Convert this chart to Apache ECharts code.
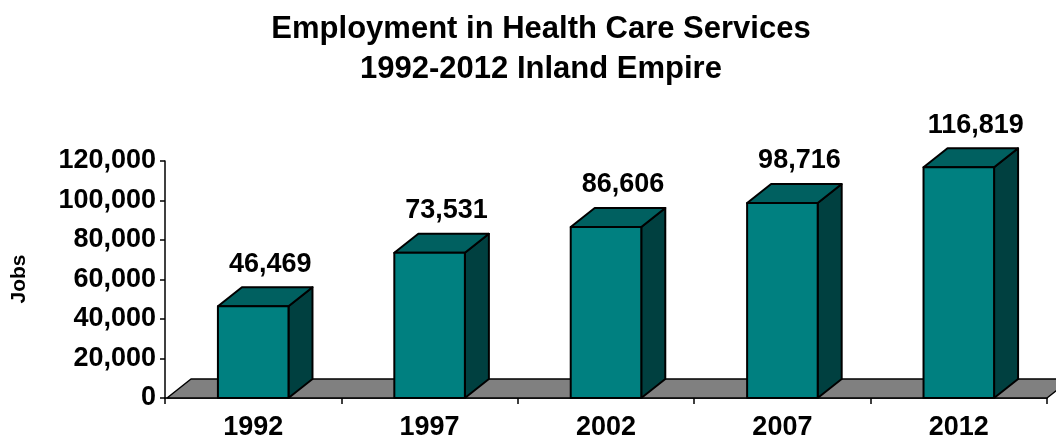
<!DOCTYPE html>
<html><head><meta charset="utf-8">
<script src="https://cdn.jsdelivr.net/npm/echarts@6.0.0/dist/echarts.min.js"></script>
<style>html,body{margin:0;padding:0;background:#fff}#c{width:1056px;height:439px}</style>
</head><body><div id="c"></div>
<script>
const titleLines = ['Employment in Health Care Services', '1992-2012 Inland Empire'];
const axisName = 'Jobs';
const categories = ['1992', '1997', '2002', '2007', '2012'];
const jobs = [46469, 73531, 86606, 98716, 116819];
const yMin = 0, yMax = 120000, yStep = 20000;

const FONT = '"Liberation Sans", Arial, sans-serif';
const DX = 24, DY = 19;
const fmt = v => Number(v).toLocaleString('en-US');

const chart = echarts.init(document.getElementById('c'));
chart.setOption({
  animation: false,
  backgroundColor: '#fff',
  graphic: [
    { type: 'text', x: 541, y: 29,
      style: { text: titleLines[0], align: 'center', verticalAlign: 'middle', font: 'bold 31px ' + FONT, fill: '#000' } },
    { type: 'text', x: 541, y: 69,
      style: { text: titleLines[1], align: 'center', verticalAlign: 'middle', font: 'bold 31px ' + FONT, fill: '#000' } },
    { type: 'text', x: 19, y: 279, rotation: Math.PI / 2,
      style: { text: axisName, align: 'center', verticalAlign: 'middle', font: 'bold 21px ' + FONT, fill: '#000' } }
  ],
  grid: { left: 165, right: 9, top: 161, bottom: 41, containLabel: false, outerBoundsMode: 'none' },
  xAxis: {
    type: 'category', data: categories, boundaryGap: true,
    axisLine: { show: true, lineStyle: { color: '#000', width: 1.5 } },
    axisTick: { show: true, length: 6, lineStyle: { color: '#000', width: 1.5 } },
    axisLabel: { margin: 16, fontFamily: FONT, fontWeight: 'bold', fontSize: 27, color: '#000' },
    splitLine: { show: false }
  },
  yAxis: {
    type: 'value', min: yMin, max: yMax, interval: yStep,
    axisLine: { show: true, lineStyle: { color: '#000', width: 1.5 } },
    axisTick: { show: true, length: 5, lineStyle: { color: '#000', width: 1.5 } },
    axisLabel: { margin: 9, fontFamily: FONT, fontWeight: 'bold', fontSize: 27, color: '#000', formatter: fmt },
    splitLine: { show: false }
  },
  series: [
    {
      type: 'custom', z: 1, clip: false, silent: true,
      data: [[0, 0]],
      renderItem: function (params, api) {
        const cs = params.coordSys;
        const yb = cs.y + cs.height;
        const x0 = cs.x + 2, x1 = cs.x + cs.width;
        return {
          type: 'polygon',
          shape: { points: [[x0, yb], [x1, yb], [x1 + DX, yb - DY], [x0 + DX, yb - DY]] },
          style: { fill: '#808080', stroke: '#000', lineWidth: 1.5, lineJoin: 'round' }
        };
      }
    },
    {
      type: 'custom', z: 2, clip: false,
      data: jobs.map((v, i) => [i, v]),
      renderItem: function (params, api) {
        const i = api.value(0), v = api.value(1);
        const top = api.coord([i, v]);
        const base = api.coord([i, 0]);
        const w = api.size([1, 0])[0] * 0.4;
        const l = top[0] - w / 2, r = top[0] + w / 2;
        const t = top[1], b = base[1];
        const st = { stroke: '#000', lineWidth: 2, lineJoin: 'round' };
        return {
          type: 'group',
          children: [
            { type: 'polygon', shape: { points: [[r, t], [r + DX, t - DY], [r + DX, b - DY], [r, b]] },
              style: Object.assign({ fill: '#004040' }, st) },
            { type: 'polygon', shape: { points: [[l, t], [r, t], [r + DX, t - DY], [l + DX, t - DY]] },
              style: Object.assign({ fill: '#006060' }, st) },
            { type: 'rect', shape: { x: l, y: t, width: w, height: b - t },
              style: Object.assign({ fill: '#008080' }, st) },
            { type: 'text',
              style: { text: fmt(v), x: top[0] + 17, y: t - DY - 23, align: 'center', verticalAlign: 'middle',
                       font: 'bold 27px ' + FONT, fill: '#000' } }
          ]
        };
      }
    }
  ]
});
</script>
</body></html>
